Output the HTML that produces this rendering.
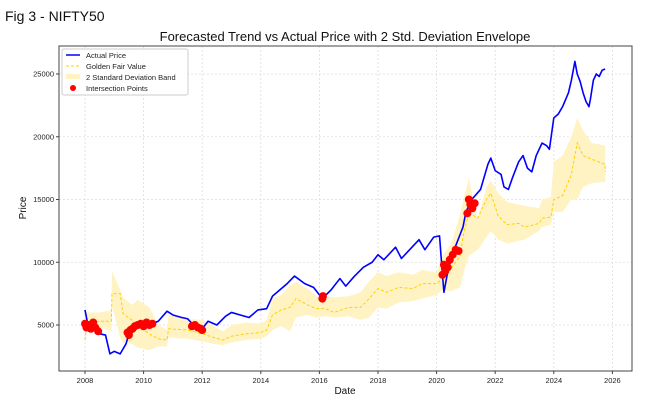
<!DOCTYPE html>
<html><head><meta charset="utf-8"><style>
body{margin:0;background:#fff;width:655px;height:412px;overflow:hidden;font-family:"Liberation Sans",sans-serif}
</style></head><body>
<svg id="chart" width="655" height="412" xmlns="http://www.w3.org/2000/svg">
<text x="5" y="21" font-size="14" fill="#111">Fig 3 - NIFTY50</text>
<text x="345" y="41" font-size="13" text-anchor="middle" fill="#111">Forecasted Trend vs Actual Price with 2 Std. Deviation Envelope</text>
<g id="grid"></g>
<g id="marks"></g>
<rect x="59" y="46" width="573" height="325" fill="none" stroke="#444" stroke-width="1"/>
<g id="axes"></g>
<text x="345" y="394" font-size="10" text-anchor="middle" fill="#111">Date</text>
<text transform="translate(26,208) rotate(-90)" font-size="10" text-anchor="middle" fill="#111">Price</text>
<g>
<rect x="62" y="49" width="126" height="46" fill="#fff" fill-opacity="0.85" stroke="#ccc" rx="2"/>
<line x1="66" y1="55" x2="80" y2="55" stroke="#0000ff" stroke-width="1.5"/>
<text x="86" y="58" font-size="7.5" fill="#222">Actual Price</text>
<line x1="66" y1="66" x2="80" y2="66" stroke="#ffd000" stroke-width="1" stroke-dasharray="3,2"/>
<text x="86" y="69" font-size="7.5" fill="#222">Golden Fair Value</text>
<rect x="66" y="74" width="14" height="5" fill="#fff3c4"/>
<text x="86" y="80" font-size="7.5" fill="#222">2 Standard Deviation Band</text>
<circle cx="73" cy="88" r="3" fill="#ff0000"/>
<text x="86" y="91" font-size="7.5" fill="#222">Intersection Points</text>
</g>
</svg>
<script>
const actualDates=[2008.0,2008.1,2008.3,2008.5,2008.7,2008.85,2009.0,2009.2,2009.4,2009.5,2009.7,2009.9,2010.2,2010.5,2010.8,2011.0,2011.3,2011.5,2011.7,2011.9,2012.0,2012.2,2012.5,2012.8,2013.0,2013.3,2013.6,2013.9,2014.2,2014.4,2014.7,2014.9,2015.15,2015.5,2015.8,2016.1,2016.4,2016.7,2016.9,2017.2,2017.5,2017.8,2018.0,2018.2,2018.6,2018.8,2019.0,2019.4,2019.6,2019.9,2020.1,2020.2,2020.25,2020.4,2020.6,2020.9,2021.0,2021.2,2021.5,2021.75,2021.85,2022.0,2022.2,2022.3,2022.45,2022.6,2022.8,2022.95,2023.1,2023.25,2023.4,2023.6,2023.75,2023.85,2024.0,2024.15,2024.3,2024.5,2024.6,2024.72,2024.8,2024.9,2025.0,2025.1,2025.2,2025.25,2025.35,2025.45,2025.55,2025.65,2025.75];
const actualValues=[6200,5000,5000,4300,4200,2700,2900,2700,3500,4300,4700,5100,5000,5300,6100,5800,5600,5500,5000,4700,4700,5300,5000,5700,6000,5800,5600,6200,6300,7300,7900,8300,8900,8300,8000,7100,7800,8700,8100,8900,9600,10000,10600,10200,11200,10300,10800,11800,11000,12000,12100,9000,7600,9500,11000,12800,14000,15000,15800,17800,18300,17300,17000,16000,15800,16800,18000,18500,17500,17200,18500,19500,19300,19000,21500,21800,22400,23500,24500,26000,25000,24400,23500,22800,22400,23000,24500,25000,24800,25300,25400];
const fairDates=[2008.0,2008.05,2008.5,2008.9,2008.92,2009.2,2009.3,2009.6,2009.8,2010.2,2010.5,2010.8,2010.85,2011.5,2012.0,2012.4,2012.7,2013.0,2013.5,2014.0,2014.2,2014.4,2014.7,2015.0,2015.2,2015.6,2015.9,2016.2,2016.5,2017.0,2017.4,2017.7,2018.0,2018.3,2018.7,2019.2,2019.5,2020.0,2020.2,2020.5,2020.8,2020.9,2021.1,2021.4,2021.7,2021.85,2022.1,2022.4,2022.8,2023.0,2023.5,2023.6,2023.9,2024.0,2024.3,2024.6,2024.8,2025.0,2025.3,2025.75,2025.76];
const fairValues=[3800,5000,5300,5300,7500,7500,5900,5400,4900,4300,3900,3800,4700,4600,4300,4000,3800,4100,4300,4400,4600,5800,6200,6400,7100,6600,6300,6300,6000,6400,6400,7100,7900,7600,8000,7900,8300,8300,8700,9500,10500,12000,14000,13500,15000,15500,13700,13000,13100,12800,13100,13500,13600,15000,15300,17000,19500,18500,18200,17800,17200];
const bandUpper=[5000,6000,6000,6200,9300,7800,7200,6600,7000,6400,5000,4600,5800,5500,5400,4900,4500,5000,5200,5100,5400,7100,7400,8200,8400,7900,7300,7300,7200,7300,7600,8500,9200,8900,9200,9000,9400,9200,10500,11500,13800,14800,16700,13300,16000,16500,15500,14800,14600,14500,14300,15000,15200,18000,18500,20000,21500,20500,19500,19300,19300];
const bandLower=[3500,4500,4800,4500,6500,4000,3600,3500,3200,3000,3300,3300,4000,3900,3700,3500,3400,3600,3800,3900,4100,4600,4900,4500,5600,5800,5600,5700,5600,5700,5400,5600,6400,6300,6800,6900,7100,7400,7800,7700,8000,9000,10500,11000,12000,12500,11800,11500,11700,11800,12500,12800,13000,14000,14000,15000,15000,16000,16300,16400,15400];
const pointDates=[2008.0,2008.05,2008.12,2008.2,2008.28,2008.35,2008.45,2009.45,2009.5,2009.55,2009.62,2009.7,2009.8,2009.9,2010.0,2010.1,2010.2,2010.3,2011.65,2011.75,2011.85,2011.95,2012.0,2016.1,2016.12,2020.2,2020.25,2020.3,2020.38,2020.45,2020.55,2020.65,2020.75,2021.05,2021.1,2021.15,2021.22,2021.3];
const pointValues=[5100,4800,5000,4700,5200,4800,4500,4400,4200,4600,4700,4900,5000,5100,4900,5200,5000,5100,4900,5000,4800,4700,4600,7100,7300,9000,9800,9300,9600,10200,10600,11000,10900,13900,15000,14600,14300,14700];
const xTicks=[2008,2010,2012,2014,2016,2018,2020,2022,2024,2026];
const yTicks=[5000,10000,15000,20000,25000];
const NS="http://www.w3.org/2000/svg";
const X=d=>85+(d-2008)*29.3;
const Y=v=>325-(v-5000)*0.01255;
function mk(tag,attrs,parent){const e=document.createElementNS(NS,tag);for(const k in attrs)e.setAttribute(k,attrs[k]);parent.appendChild(e);return e;}
const grid=document.getElementById('grid'),marks=document.getElementById('marks'),axes=document.getElementById('axes');
xTicks.forEach(t=>{
 const l=mk('line',{x1:X(t),x2:X(t),y1:46,y2:371,stroke:'#ddd','stroke-dasharray':'2,2','stroke-width':0.8},grid);
 
 
 const tk=mk('line',{x1:X(t),x2:X(t),y1:371,y2:374,stroke:'#444'},axes);
 
 
 const tx=mk('text',{x:X(t),y:383,'font-size':7.5,'text-anchor':'middle',fill:'#222'},axes);tx.textContent=t;
 
 
});
yTicks.forEach(t=>{
 const l=mk('line',{x1:59,x2:632,y1:Y(t),y2:Y(t),stroke:'#ddd','stroke-dasharray':'2,2','stroke-width':0.8},grid);
 
 
 const tk=mk('line',{x1:56,x2:59,y1:Y(t),y2:Y(t),stroke:'#444'},axes);
 
 
 const tx=mk('text',{x:54,y:Y(t)+2.7,'font-size':7.5,'text-anchor':'end',fill:'#222'},axes);tx.textContent=t;
 
 
});
let bp=fairDates.map((d,i)=>X(d)+','+Y(bandUpper[i]));
for(let i=fairDates.length-1;i>=0;i--)bp.push(X(fairDates[i])+','+Y(bandLower[i]));
const band=mk('polygon',{points:bp.join(' '),fill:'#fff3c4',stroke:'none'},marks);


const fair=mk('polyline',{points:fairDates.map((d,i)=>X(d)+','+Y(fairValues[i])).join(' '),fill:'none',stroke:'#ffd000','stroke-width':1,'stroke-dasharray':'3,2'},marks);


const act=mk('polyline',{points:actualDates.map((d,i)=>X(d)+','+Y(actualValues[i])).join(' '),fill:'none',stroke:'#0000ff','stroke-width':1.6,'stroke-linejoin':'round'},marks);


pointDates.forEach((d,i)=>{
 const c=mk('circle',{cx:X(d),cy:Y(pointValues[i]),r:4,fill:'#ff0000'},marks);
 
 
});
</script>
</body></html>
